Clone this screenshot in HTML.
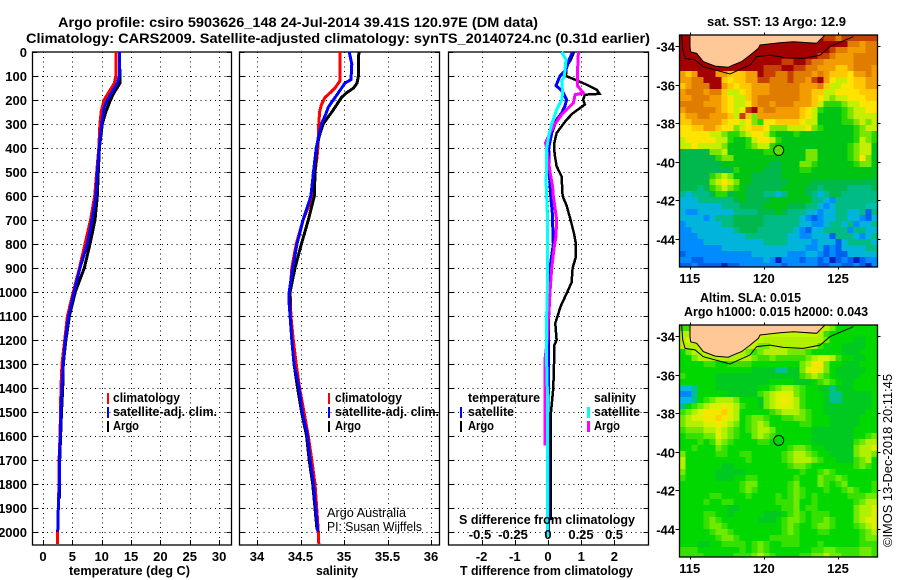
<!DOCTYPE html>
<html><head><meta charset="utf-8"><title>Argo profile</title>
<style>
html,body{margin:0;padding:0;background:#fff}
svg{display:block}
text{font-family:"Liberation Sans",sans-serif;fill:#000}
.b{font-weight:bold;font-size:13px}
.t{font-weight:bold;font-size:14px}
.r{font-size:13px}
</style></head>
<body>
<svg id="chart" width="900" height="580" viewBox="0 0 900 580" xmlns="http://www.w3.org/2000/svg">
<rect width="900" height="580" fill="#fff"/>
<text class="t" x="58" y="27" textLength="480" lengthAdjust="spacingAndGlyphs">Argo profile: csiro 5903626_148 24-Jul-2014 39.41S 120.97E (DM data)</text>
<text class="t" x="26" y="43" textLength="624" lengthAdjust="spacingAndGlyphs">Climatology: CARS2009. Satellite-adjusted climatology: synTS_20140724.nc (0.31d earlier)</text>

<g id="panels"></g>
<g id="maps"></g>

<text class="b" x="69" y="575" textLength="121" lengthAdjust="spacingAndGlyphs">temperature (deg C)</text>
<text class="b" x="316" y="575" textLength="42" lengthAdjust="spacingAndGlyphs">salinity</text>
<text class="b" x="460" y="575" textLength="173" lengthAdjust="spacingAndGlyphs">T difference from climatology</text>
<text class="b" x="459" y="524" textLength="176" lengthAdjust="spacingAndGlyphs">S difference from climatology</text>

<g>
<rect x="107" y="393" width="2" height="11" fill="#f00"/>
<rect x="107" y="407" width="2" height="11" fill="#00f"/>
<rect x="107" y="421" width="2" height="11" fill="#000"/>
<text class="b" x="113" y="402" textLength="67" lengthAdjust="spacingAndGlyphs">climatology</text>
<text class="b" x="113" y="416" textLength="104" lengthAdjust="spacingAndGlyphs">satellite-adj. clim.</text>
<text class="b" x="113" y="430" textLength="26" lengthAdjust="spacingAndGlyphs">Argo</text>
</g>
<g>
<rect x="328" y="393" width="2" height="11" fill="#f00"/>
<rect x="328" y="407" width="2" height="11" fill="#00f"/>
<rect x="328" y="421" width="2" height="11" fill="#000"/>
<text class="b" x="335" y="402" textLength="67" lengthAdjust="spacingAndGlyphs">climatology</text>
<text class="b" x="335" y="416" textLength="104" lengthAdjust="spacingAndGlyphs">satellite-adj. clim.</text>
<text class="b" x="335" y="430" textLength="26" lengthAdjust="spacingAndGlyphs">Argo</text>
</g>
<g>
<text class="b" x="468" y="402" textLength="72" lengthAdjust="spacingAndGlyphs">temperature</text>
<rect x="460" y="407" width="2" height="11" fill="#00f"/>
<text class="b" x="468" y="416" textLength="46" lengthAdjust="spacingAndGlyphs">satellite</text>
<rect x="460" y="421" width="2" height="11" fill="#000"/>
<text class="b" x="468" y="430" textLength="26" lengthAdjust="spacingAndGlyphs">Argo</text>
<text class="b" x="594" y="402" textLength="42" lengthAdjust="spacingAndGlyphs">salinity</text>
<rect x="587" y="407" width="3" height="11" fill="#0ff"/>
<text class="b" x="594" y="416" textLength="46" lengthAdjust="spacingAndGlyphs">satellite</text>
<rect x="587" y="421" width="3" height="11" fill="#f0f"/>
<text class="b" x="594" y="430" textLength="26" lengthAdjust="spacingAndGlyphs">Argo</text>
</g>
<text class="r" x="327" y="517" textLength="79" lengthAdjust="spacingAndGlyphs">Argo Australia</text>
<text class="r" x="327" y="531" textLength="95" lengthAdjust="spacingAndGlyphs">PI: Susan Wijffels</text>

<text class="t" x="707" y="26" textLength="139" lengthAdjust="spacingAndGlyphs" style="font-size:13px">sat. SST: 13 Argo: 12.9</text>
<text class="t" x="700" y="302" textLength="101" lengthAdjust="spacingAndGlyphs" style="font-size:13px">Altim. SLA: 0.015</text>
<text class="t" x="684" y="316" textLength="184" lengthAdjust="spacingAndGlyphs" style="font-size:13px">Argo h1000: 0.015 h2000: 0.043</text>
<text class="r" transform="translate(892,547) rotate(-90)" textLength="173" lengthAdjust="spacingAndGlyphs">©IMOS 13-Dec-2018 20:11:45</text>
</svg>
<script>
// ---------- profile data ----------
const tempClimDepth = [0,100,130,160,200,250,300,400,500,600,700,800,900,1000,1100,1200,1300,1400,1500,1600,1700,1800,1900,2000,2050];
const tempClim = [12.4,12.4,12.15,11.4,10.4,9.9,9.7,9.5,9.15,8.8,8.1,7.16,6.2,5.17,4.15,3.7,3.24,3.05,2.98,2.9,2.75,2.72,2.6,2.5,2.45];
const tempSatDepth = [0,100,130,170,200,230,300,400,500,600,700,800,900,1000,1100,1200,1300,1400,1500,1600,1700,1800,1900,2000];
const tempSat = [13,13,12.66,11.7,10.96,10.45,10,9.55,9.25,9.03,8.35,7.55,6.3,5.28,4.37,3.8,3.46,3.24,3.07,2.95,2.78,2.78,2.6,2.5];
const tempArgoDepth = [0,95,130,150,170,200,250,300,400,500,600,700,800,900,1000,1100,1200,1300,1400,1500,1600,1700,1860];
const tempArgo = [13,13.1,13.1,12.6,12.1,11.5,10.7,10.1,9.6,9.42,9.25,8.86,8,7.04,5.5,4.5,3.9,3.46,3.35,3.15,3,2.85,2.8];

const salClimDepth = [0,120,150,170,190,220,250,300,350,400,450,500,600,700,800,900,1000,1100,1200,1300,1400,1500,1600,1700,1800,1900,2000,2050];
const salClim = [34.954,34.954,34.897,34.84,34.78,34.74,34.72,34.71,34.705,34.7,34.686,34.667,34.64,34.53,34.45,34.4,34.38,34.39,34.417,34.45,34.49,34.54,34.59,34.63,34.667,34.686,34.705,34.71];
const salSatDepth = [0,50,115,130,170,200,230,260,300,350,400,500,600,700,800,900,1000,1050,1100,1200,1300,1400,1500,1600,1700,1800,1900,2000];
const salSat = [35.06,35.09,35.08,35.01,34.935,34.877,34.82,34.79,34.74,34.71,34.68,34.65,34.62,34.53,34.46,34.41,34.37,34.37,34.38,34.4,34.425,34.483,34.52,34.58,34.61,34.65,34.674,34.7];
const salArgoDepth = [0,100,130,150,170,190,220,250,300,350,400,500,600,700,800,900,1000,1100,1200,1300,1400,1500,1600,1700,1800,1900,1990];
const salArgo = [35.17,35.165,35.15,35.11,35.03,34.97,34.916,34.86,34.76,34.716,34.686,34.667,34.66,34.59,34.51,34.437,34.38,34.38,34.4,34.425,34.467,34.513,34.57,34.6,34.64,34.667,34.69];

const diffTArgoDepth = [0,32,60,100,115,136,157,174,178,199,219,229,254,282,300,338,379,400,435,476,518,600,640,700,754,800,858,900,960,1000,1060,1100,1130,1200,1226,1300,1400,1500,1600,1700,1800,1900,1950];
const diffTArgo = [.78,.69,.56,.54,.81,1.16,1.47,1.55,1.11,1.06,1.11,1.01,.76,.56,.46,.26,.19,.18,.21,.26,.41,.44,.56,.68,.78,.84,.83,.74,.71,.58,.38,.29,.22,.26,.18,.18,.16,.09,.08,.08,.09,.08,.08];
const diffTSatDepth = [0,32,74,100,140,164,199,226,254,282,338,400,500,600,670,800,900,1000,1100,1300,1400,1600,1800,2000];
const diffTSat = [.74,.64,.54,.36,.24,.44,.56,.51,.41,.26,.11,.02,.04,.08,.13,.16,.06,.06,.02,.02,.01,0,.02,.01];
const diffSArgoDepth = [0,100,140,171,178,213,233,261,300,338,379,400,500,560,600,700,770,810,900,1000,1060,1100,1200,1280,1400,1500,1640];
const diffSArgo = [.23,.222,.222,.268,.205,.192,.154,.104,.053,.015,-.02,-.01,.015,.035,.04,.066,.06,.048,.028,.015,.01,.003,-.005,-.023,-.023,-.023,-.023];
const diffSSatDepth = [0,32,100,122,171,199,240,300,338,400,500,530,670,1000,1090,1300,1400,1700,2020];
const diffSSat = [.104,.136,.124,.104,.111,.104,.066,.028,.01,-.01,-.01,-.015,-.005,-.005,-.01,-.01,-.005,-.005,-.005];

// ---------- tick labels ----------
const depthTicks = [0,100,200,300,400,500,600,700,800,900,1000,1100,1200,1300,1400,1500,1600,1700,1800,1900,2000];
const tempTicks = [0,5,10,15,20,25,30];
const salTicks = [34,34.5,35,35.5,36];
const diffTTicks = [-2,-1,0,1,2];
const diffSTicks = [-0.5,-0.25,0,0.25,0.5];
const lonTicks = [115,120,125];
const latTicks = [-34,-36,-38,-40,-42,-44];

// ---------- coastline (lon / lat) ----------
const shelfLon = [114.46,114.53,114.69,115.36,115.92,117.72,119.07,119.52,120.42,121.31,122.66,123.79,124.46,126.03];
const shelfLat = [-33.43,-34.2,-34.64,-34.72,-35.07,-35.45,-34.98,-34.55,-34.47,-34.59,-34.64,-34.47,-34.03,-33.52];
const coastLon = [115.02,115.02,115.07,115.47,115.92,116.71,117.6,117.94,118.5,119.07,119.63,119.74,121.09,121.99,123.56,124.12];
const coastLat = [-33.43,-34.04,-34.3,-34.38,-34.81,-35.04,-35.1,-34.98,-34.81,-34.47,-34.12,-33.95,-33.83,-33.78,-33.86,-33.43];
const floatLon = 121;
const floatLat = -39.41;

// ---------- map cell classes ----------
const sstRows = [
"DDLLLLLLLLLLLLLLLLLLLLLLRRORRRRRR",
"DDLLLLLLLLLLLLLLLLLLLLLDDDDDOOAOO",
"DDLLLLLLLLLLLLDDDDDDDDDDDROOAAAOO",
"DDDLLLLLLLLLLDDDDDDDDDDRROAAAOOOO",
"DDDDDLLLLLDDDDDDDRRDDROOAAAAAOOOO",
"DDDDDDDDDDDDDDRRRDDRROOAAAYYAOOOA",
"AYADDDAAYYYAADRROOROOOAOAYYYEAAOA",
"AAOODDDYEYYAARROOOROOARDAEVVEYYAA",
"YAOOODDAYEYYAAAOOOOOAAAOYVVEEYYAA",
"AOOOAOOYVVEYAAAOOOOOAAYYVVEEEEYYY",
"AAOOOAAYEVVYAOOOOOOOAAYEVWVVEEEYY",
"OOOOAAAYEVVEAOOAOOOAAAYVGGGWVVEEE",
"AOOOOOAYEVERDAOOAAAAYEVGHHHGWVVEE",
"YAAOOAAAYVRYWAAAAAAAYEVHHHHGWVVVV",
"YYAAAAAYEEVEWGEEYYYYEVVHHHHGGWVWV",
"EEYYAAYEEWVEYYEWWWVVVEWGHHHHHGWVV",
"EEEEEVVWGGWVEEVGHHHGHHHHHHHHHGWWG",
"VEEEEEVVGHHGVEEVGHHHHHHHHHHHHGVWG",
"VVEVVVVWHHHGWVVGHHHHHHHHHHHHGWVVH",
"IIIIIWWVHHHHHHGGHHHHHWWHHHHHGWVVH",
"IIIIIIGWWHHHHHHHHHHHHWWHHHHHGWEWH",
"IIIIIIIHHHHHHHHIIHHHWWGHHHHHHGWWH",
"IIIIIIIIIGHHHHIIIHHHGGHHHHHHHHHHH",
"IIIIIGWVWHHHIIIIIHHHHHHHHHHHHHHHH",
"IIIIIWVEVWHHIIIIIIHHHHIIIIIIIIIII",
"IIITIGWVWGHIIIIIIHHHHIITIIIITTTTI",
"TCTTTIGGIHHIIITTCTHHHITCTIITTTTTT",
"CCCTTTTTTIHIIIIHHHHHHHTTCBTTTTTTT",
"CCCCCCCTTTIIIIHHHHIIITTCBCTTTTTUU",
"CBBCCCCCCTTTTIIIHITTTCCBCCTTCCTNT",
"CCCCBCTTTIIIIITTTTTTCBNBCCTTCCBNC",
"BCCCCCCTTIIIIITTTTTTCCBBCTTCTBCCT",
"BBCCCCCCCTIIITTTTTTCBNCCTTTTBTTCC",
"BBBCCCCCCCCTTTTTTTCCBBCCCNTTTCBCT",
"BBBBCCCCCCCCCCTTTTCCCCBCCCNCTTTTC",
"BBBBBBBCCCCCCCCCCCCCCBBCNBNCCCCTT",
"NBBBBBBBBBBBCCCCCCBBBCCBNBNNCCCCC",
"BBNNBBBBBBBBBBCBMBBBNBBNBMNBNMNBB",
"NNBNNNNMNNBBBBBBBNBBBBBNNBBNNBNMB"
];
const slaRows = [
"ccLLLLLLLLLLLLLLLLLLLLLLedbbbbbbb",
"eeLLLLLLLLLLLLLLLLLLLLLecbbbbbbbb",
"efLLLLLLLLLLLLeeeeeeeeeedbbbbaabb",
"eeeLLLLLLLLLLddeeeeeeeecbbbaaaabb",
"bdeeeLLLLLedcdeeeedddcbbbbbaaabbb",
"bbdeeeeeeeeedccdcccccdeffecbbaabb",
"bbbbccbbccccbbbbbbbbdeggdbbaaabbb",
"bbbbbbbbbbbbaaaattaadfgfdbaaaaabb",
"cbbbbbaaaaaaaaaaaaaacdedcbaaaabbb",
"bbbbbbaaaaaaaaabbbbaaabcdcbaabbbb",
"uutbbbaaaaaaabbcdeedcbbaataaabbbb",
"vvtbbbbbaaaaacdefffdcbbbattaaaaab",
"uutbcdeeedbbbadefgfecbbbattaaaaab",
"tbcdeffgfecbbadefffecbbbaaaaaaaab",
"cdefggghfebbbbbcdeeedcbbaaaaaaabb",
"deffgghgfebcddcbbccddcbbbaaaaabbb",
"deeeffgfedbcdedbbbbbccbbbaaaaabbb",
"cdddeefedcbcdeedbbbbbbaaaaaaabbbb",
"bcccddfedcbbdedcbbbbbbaaaaaaabbcd",
"bbbcbcedcbbbbccbbbbbbbaaaaaaacdee",
"bbcbbbdcbbbbbbbbbbcddcbbaaaaadeef",
"dbbbbbccbbccbbbbbcdeedcbbaaaadeed",
"ebbbbbbbbbbcbbbbbcdeeedcbbaaacdeb",
"ebbbbbbaabbbbbbbbbcddcbbbbbbbcdcb",
"dbbbbbaaaaabbbbbbbbbcbbcdcbbbbbbb",
"cbbbbbaaabbccbbbbbbcbbbdccdcbbbbb",
"bbbbbbbbbbcddbbbbbcdbbbdcbcdbbbbc",
"bbbbbbbbbbcdcbbbbbcdcbbbcbbcdcbbc",
"bbbbbccbbbbcbbbbcbcdcbcbbbbbcccdd",
"bbbbcbbccbbbbbbbcccdbbcbbbbbbcdee",
"bbbbbbbbaabbbbbbbccdbccbbbbbbdeef",
"bbbbccbbabbbbbaaabcdcbcccbbbbdeef",
"bbbbcdcbbbbbbaaabcddcbccdcbbbdeff",
"bbbbcddcbbbbbbbbbcdcbbcddcbbbcdef",
"bbbbbcddcbbbbbbbbcdcbbbccbbbbbcde",
"bbbbbbcddcbbbbbcccccbbbbbbbbbbcdd",
"bbbaabbccccbcdcbbcccbbbcbbbbbbccc",
"cccbbbbbbbcbcdcbbbbbbbccddccccddc",
"ccccbbbbbcccdedcbbbbccddeddcccddc"
];
const landColour = '#ffc896';
const sstColours = {D:'#a50000',R:'#c84000',O:'#e07c00',A:'#f29c00',Y:'#ffc800',E:'#ffe400',V:'#c4f000',W:'#78e600',G:'#28d800',H:'#00c414',I:'#00b84c',T:'#00bc84',U:'#00c0b0',C:'#00b4dc',B:'#008cff',N:'#0060f0',M:'#0020c0',L:'#a50000'};
const slaColours = {a:'#00ca20',b:'#00d800',c:'#38e000',d:'#70ea00',e:'#b0f000',f:'#dcf000',g:'#f4e800',h:'#ffd000',t:'#00c090',u:'#00b8e0',v:'#0088ff',L:'#c0f400'};

// ---------- drawing helpers ----------
const NS = 'http://www.w3.org/2000/svg';
function el(parent, tag, attrs, txt) {
  const e = document.createElementNS(NS, tag);
  for (const k in attrs) e.setAttribute(k, attrs[k]);
  if (txt !== undefined) e.textContent = txt;
  parent.appendChild(e);
  return e;
}
const PANEL_TOP = 52, PANEL_BOTTOM = 545;
const depthY = d => PANEL_TOP + d * 0.24;
const tempX = v => 43 + 5.87 * v;
const salX = v => 257 + 87 * (v - 34);
const diffTX = v => 548 + 33.2 * v;
const diffSX = v => 548 + 132 * v;
const lonX = v => 689.7 + 14.83 * (v - 115);
const latY = v => 46 + 19.3 * (-34 - v);

const panelsG = document.getElementById('panels');
const mapsG = document.getElementById('maps');

function drawFrame(name, x0, x1, xScale, xTicks) {
  const g = el(panelsG, 'g', {});
  
  
  depthTicks.forEach(d => {
    if (d > 0) {
      const gl = el(g, 'line', {x1:x0, x2:x1, y1:Math.round(depthY(d))+.5, y2:Math.round(depthY(d))+.5, stroke:'#000', 'stroke-width':1, 'stroke-dasharray':'1 3.8', 'shape-rendering':'crispEdges'});
      
      
    }
    const yy = Math.round(depthY(d)) + .5;
    el(g, 'path', {d:`M${x0} ${yy}h5M${x1} ${yy}h-5`, stroke:'#000', 'stroke-width':1, fill:'none', 'shape-rendering':'crispEdges'});
  });
  xTicks.forEach(v => {
    const xx = Math.round(xScale(v)) + .5;
    const gl = el(g, 'line', {x1:xx, x2:xx, y1:PANEL_TOP, y2:PANEL_BOTTOM, stroke:'#000', 'stroke-width':1, 'stroke-dasharray':'1 3.8', 'shape-rendering':'crispEdges'});
    
    
    el(g, 'path', {d:`M${xx} ${PANEL_BOTTOM}v-5`, stroke:'#000', 'stroke-width':1, fill:'none', 'shape-rendering':'crispEdges'});
    const lbl = el(g, 'text', {x:xScale(v), y:561, 'text-anchor':'middle', class:'b'}, String(v));
    
    
  });
  const frame = el(g, 'rect', {x:x0, y:PANEL_TOP, width:x1-x0, height:PANEL_BOTTOM-PANEL_TOP, fill:'none', stroke:'#000', 'stroke-width':1.3});
  
  
  return g;
}
function drawLine(g, name, depths, values, xScale, colour, w) {
  const pts = depths.map((d, i) => xScale(values[i]).toFixed(1) + ',' + depthY(d).toFixed(1)).join(' ');
  const p = el(g, 'polyline', {points:pts, fill:'none', stroke:colour, 'stroke-width':w, 'shape-rendering':'crispEdges', 'stroke-linejoin':'miter'});
  
  
}

// ---------- panels ----------
const p1 = drawFrame('temperature', 32.5, 231.5, tempX, tempTicks);
drawLine(p1, 'temperature-climatology-line', tempClimDepth, tempClim, tempX, '#f00', 3);
drawLine(p1, 'temperature-argo-line', tempArgoDepth, tempArgo, tempX, '#000', 3);
drawLine(p1, 'temperature-satellite-line', tempSatDepth, tempSat, tempX, '#00f', 3);

const p2 = drawFrame('salinity', 239.5, 439.5, salX, salTicks);
drawLine(p2, 'salinity-climatology-line', salClimDepth, salClim, salX, '#f00', 3);
drawLine(p2, 'salinity-argo-line', salArgoDepth, salArgo, salX, '#000', 3);
drawLine(p2, 'salinity-satellite-line', salSatDepth, salSat, salX, '#00f', 3);

const p3 = drawFrame('difference', 448.5, 648.5, diffTX, diffTTicks);
drawLine(p3, 't-diff-argo-line', diffTArgoDepth, diffTArgo, diffTX, '#000', 2.5);
drawLine(p3, 't-diff-satellite-line', diffTSatDepth, diffTSat, diffTX, '#00f', 3);
drawLine(p3, 's-diff-argo-line', diffSArgoDepth, diffSArgo, diffSX, '#f0f', 3);
drawLine(p3, 's-diff-satellite-line', diffSSatDepth, diffSSat, diffSX, '#0ff', 3);

depthTicks.forEach(d => {
  const t = el(panelsG, 'text', {x:27, y:depthY(d)+5, 'text-anchor':'end', class:'b'}, String(d));
  
  
});
diffSTicks.forEach(v => {
  const t = el(panelsG, 'text', {x:diffSX(v)-(v<0?2:0), y:539, 'text-anchor':'middle', class:'b'}, String(v));
  
  
});

// ---------- maps ----------
const MAP_L = 679.5, MAP_R = 877.5, CELL = 6;
function drawMap(name, rows, colours, top, fillMarker) {
  const g = el(mapsG, 'g', {});
  
  
  const bottom = top + 232;
  rows.forEach((row, r) => {
    [...row].forEach((ch, c) => {
      const yy = top + r * CELL;
      const h = Math.min(CELL, bottom - yy);
      const cell = el(g, 'rect', {x:MAP_L + c * CELL, y:yy, width:CELL + .2, height:h + .2, fill:colours[ch], 'shape-rendering':'crispEdges'});
      
      
    });
  });
  const off = top - 35;
  const land = el(g, 'polygon', {points:coastLon.map((v, i) => lonX(v).toFixed(1) + ',' + Math.max(top, latY(coastLat[i]) + off).toFixed(1)).join(' '), fill:landColour, stroke:'#000', 'stroke-width':1});
  
  
  const shelf = el(g, 'polyline', {points:shelfLon.map((v, i) => lonX(v).toFixed(1) + ',' + Math.max(top, latY(shelfLat[i]) + off).toFixed(1)).join(' '), fill:'none', stroke:'#000', 'stroke-width':1});
  
  
  const frame = el(g, 'rect', {x:MAP_L, y:top, width:MAP_R - MAP_L, height:232, fill:'none', stroke:'#000', 'stroke-width':1.3});
  
  
  lonTicks.forEach(v => {
    const xx = Math.round(lonX(v)) + .5;
    el(g, 'path', {d:`M${xx} ${top}v-2.5M${xx} ${bottom}v2.5`, stroke:'#000', 'stroke-width':1});
    const t = el(g, 'text', {x:lonX(v), y:bottom + 16, 'text-anchor':'middle', class:'b'}, String(v));
    
    
  });
  latTicks.forEach(v => {
    const yy = Math.round(latY(v) + off) + .5;
    el(g, 'path', {d:`M${MAP_L} ${yy}h-4M${MAP_R} ${yy}h3`, stroke:'#000', 'stroke-width':1});
    const t = el(g, 'text', {x:675, y:yy + 5, 'text-anchor':'end', class:'b'}, String(v));
    
    
  });
  const m = el(g, 'circle', {cx:lonX(floatLon), cy:latY(floatLat) + off, r:5, fill:fillMarker, stroke:'#000', 'stroke-width':1});
  
  
}
drawMap('sst-map', sstRows, sstColours, 35, '#58e000');
drawMap('sla-map', slaRows, slaColours, 325, 'none');
</script>
</body></html>
